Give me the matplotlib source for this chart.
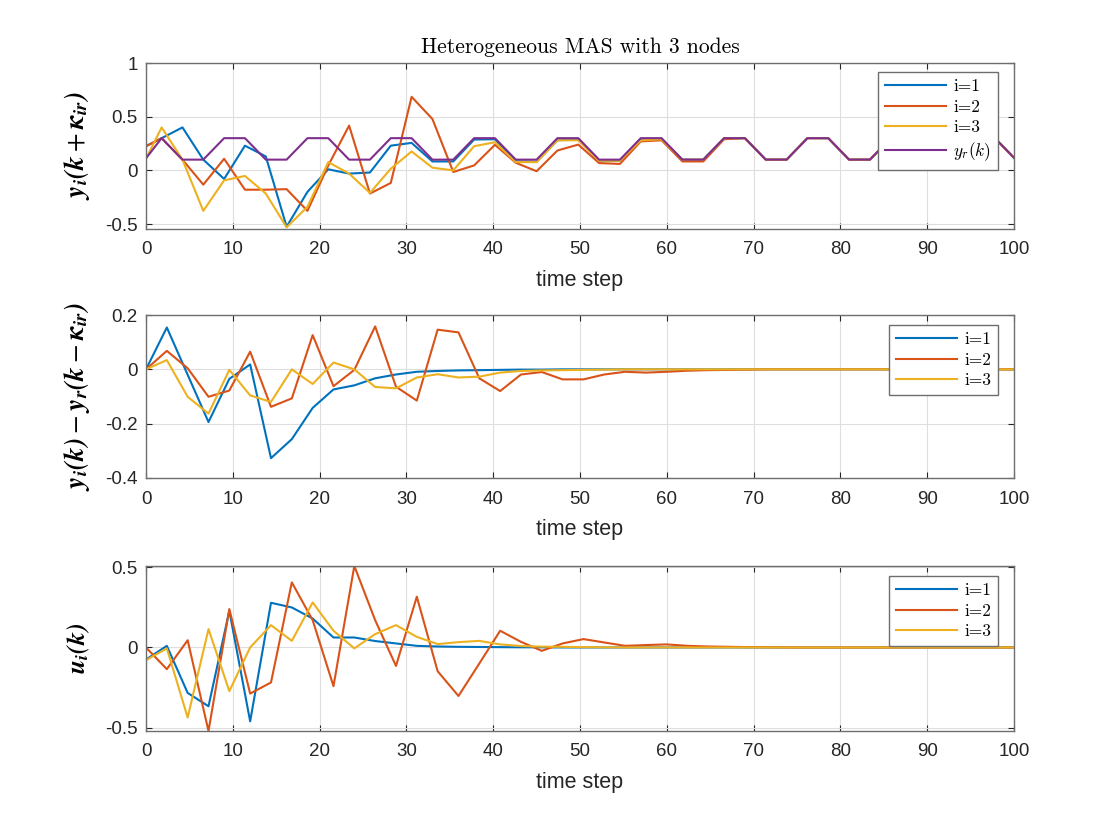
import matplotlib
matplotlib.use('Agg')
import matplotlib.pyplot as plt
import numpy as np

plt.rcParams['mathtext.fontset'] = 'cm'
plt.rcParams['axes.unicode_minus'] = False
plt.rcParams['font.family'] = ['Liberation Sans', 'DejaVu Sans']

# sample index (same for all panels)
n_idx = np.arange(43)
x_top = n_idx * 2.4 - 0.6
x_err = n_idx * 2.4

# panel 1: y_i(k + kappa_ir) and reference y_r(k)
yr = [0.05, 0.3, 0.1, 0.1, 0.3, 0.3, 0.1, 0.1, 0.3, 0.3, 0.1, 0.1, 0.3, 0.3, 0.1,
      0.1, 0.3, 0.3, 0.1, 0.1, 0.3, 0.3, 0.1, 0.1, 0.3, 0.3, 0.1, 0.1, 0.3, 0.3,
      0.1, 0.1, 0.3, 0.3, 0.1, 0.1, 0.3, 0.3, 0.1, 0.1, 0.3, 0.3, 0.1]
y1 = [0.2, 0.30, 0.40, 0.10, -0.08, 0.23, 0.13, -0.525, -0.20, 0.01, -0.03, -0.02,
      0.23, 0.256, 0.083, 0.083, 0.287, 0.29, 0.083, 0.08, 0.28, 0.29, 0.09, 0.09,
      0.29, 0.29, 0.1, 0.1, 0.3, 0.3, 0.1, 0.1, 0.3, 0.3, 0.1, 0.1, 0.3, 0.3, 0.1,
      0.1, 0.3, 0.3, 0.1]
y2 = [0.2, 0.30, 0.10, -0.133, 0.108, -0.18, -0.18, -0.175, -0.377, 0.046, 0.417,
      -0.216, -0.117, 0.685, 0.478, -0.015, 0.046, 0.238, 0.071, -0.008, 0.185, 0.24,
      0.068, 0.06, 0.27, 0.28, 0.083, 0.083, 0.29, 0.3, 0.1, 0.1, 0.3, 0.3, 0.1, 0.1,
      0.3, 0.3, 0.1, 0.1, 0.3, 0.3, 0.1]
y3 = [0.01, 0.40, 0.10, -0.377, -0.093, -0.052, -0.216, -0.53, -0.34, 0.077, -0.03,
      -0.21, 0.015, 0.176, 0.025, 0.0, 0.225, 0.262, 0.077, 0.077, 0.28, 0.28, 0.09,
      0.09, 0.28, 0.29, 0.1, 0.1, 0.3, 0.3, 0.1, 0.1, 0.3, 0.3, 0.1, 0.1, 0.3, 0.3,
      0.1, 0.1, 0.3, 0.3, 0.1]

# panel 2: tracking error
e1 = [0, 0.154, -0.02, -0.194, -0.035, 0.018, -0.327, -0.257, -0.142, -0.074, -0.059,
      -0.033, -0.019, -0.009, -0.006, -0.004, -0.003, -0.002, -0.001, -0.001, 0, 0, 0,
      0, 0, 0, 0, 0, 0, 0, 0, 0, 0, 0, 0, 0, 0, 0, 0, 0, 0, 0, 0]
e2 = [0, 0.068, 0.004, -0.101, -0.078, 0.065, -0.138, -0.107, 0.126, -0.062, -0.002,
      0.158, -0.064, -0.115, 0.146, 0.136, -0.033, -0.080, -0.019, -0.010, -0.037,
      -0.037, -0.019, -0.009, -0.012, -0.009, -0.005, -0.003, -0.002, -0.001, 0, 0, 0,
      0, 0, 0, 0, 0, 0, 0, 0, 0, 0]
e3 = [0, 0.034, -0.101, -0.163, -0.002, -0.096, -0.12, 0.0, -0.054, 0.025, 0.0,
      -0.065, -0.07, -0.03, -0.018, -0.03, -0.027, -0.012, -0.006, -0.004, -0.003,
      -0.002, -0.001, 0, 0, 0, 0, 0, 0, 0, 0, 0, 0, 0, 0, 0, 0, 0, 0, 0, 0, 0, 0]

# panel 3: control input
u1 = [-0.075, 0.01, -0.283, -0.366, 0.228, -0.46, 0.278, 0.249, 0.18, 0.062, 0.062,
      0.04, 0.025, 0.01, 0.006, 0.004, 0.003, 0.002, 0.001, 0.001, 0, 0, 0, 0, 0, 0,
      0, 0, 0, 0, 0, 0, 0, 0, 0, 0, 0, 0, 0, 0, 0, 0, 0]
u2 = [0.0, -0.135, 0.045, -0.52, 0.239, -0.287, -0.218, 0.405, 0.17, -0.241, 0.507,
      0.17, -0.115, 0.316, -0.148, -0.302, -0.1, 0.104, 0.035, -0.021, 0.025, 0.052,
      0.031, 0.01, 0.015, 0.019, 0.01, 0.006, 0.004, 0.002, 0.001, 0, 0, 0, 0, 0, 0,
      0, 0, 0, 0, 0, 0]
u3 = [-0.079, -0.006, -0.436, 0.114, -0.272, 0.0, 0.139, 0.041, 0.28, 0.104, -0.006,
      0.083, 0.139, 0.066, 0.021, 0.033, 0.041, 0.019, 0.009, 0.005, 0.004, 0.002,
      0.001, 0, 0, 0, 0, 0, 0, 0, 0, 0, 0, 0, 0, 0, 0, 0, 0, 0, 0, 0, 0]

colors = ['#0072BD', '#D95319', '#EDB120', '#7E2F8E']
labels = ['i=1', 'i=2', 'i=3']


def style_axes(ax, yticks, ylim, ylabel, ysize):
    ax.set_xlim(0, 100)
    ax.set_ylim(*ylim)
    ax.set_xticks(range(0, 101, 10))
    ax.set_yticks(yticks)
    ax.set_yticklabels(['%g' % t for t in yticks])
    ax.grid(True, color='#dedede', linewidth=0.8)
    ax.set_axisbelow(True)
    ax.tick_params(direction='in', top=True, right=True, length=4, width=0.8,
                   color='#262626', labelcolor='#262626', labelsize=13.5)
    ax.tick_params(axis='x', pad=9)
    ax.tick_params(axis='y', pad=6)
    for s in ax.spines.values():
        s.set_color('#6e6e6e')
        s.set_linewidth(1.0)
    ax.set_xlabel('time step', fontsize=15.5, color='#262626', labelpad=8)
    ax.set_ylabel(ylabel, fontsize=ysize, math_fontfamily='stix')
    ax.yaxis.set_label_coords(-0.062, 0.5)


def add_legend(ax, handles, names, top_px, height_px):
    leg = ax.legend(handles, names, loc='upper right',
                    bbox_to_anchor=(1 - 16 / 868, 1 - top_px / height_px),
                    borderaxespad=0, fancybox=False, framealpha=1,
                    edgecolor='#6e6e6e', handlelength=3.5, handletextpad=0.4,
                    labelspacing=0.3, borderpad=0.4,
                    prop={'family': 'cmr10', 'size': 12.5})
    leg.get_frame().set_linewidth(1.0)


fig = plt.figure(figsize=(11.2, 8.4), dpi=100)
W, H = 1120, 840
L, R = 146, 1014

# top panel
ax1 = fig.add_axes([L / W, 1 - 229 / H, (R - L) / W, 166 / H])
h = []
for yy, c in zip([y1, y2, y3, yr], colors):
    h.append(ax1.plot(x_top, yy, color=c, linewidth=1.5)[0])
style_axes(ax1, [-0.5, 0, 0.5, 1], (-0.546, 1),
           r'$\mathbfit{y_i(k}\:+\:\mathbfit{\kappa_{ir})}$', 19.5)
ax1.set_title('Heterogeneous MAS with 3 nodes', fontfamily='cmr10', fontsize=15.5,
              pad=7)
add_legend(ax1, h, labels + [r'$y_r(k)$'], 9, 166)

# middle panel
ax2 = fig.add_axes([L / W, 1 - 478 / H, (R - L) / W, 163 / H])
h = []
for yy, c in zip([e1, e2, e3], colors):
    h.append(ax2.plot(x_err, yy, color=c, linewidth=1.5)[0])
style_axes(ax2, [-0.4, -0.2, 0, 0.2], (-0.4, 0.2),
           r'$\mathbfit{y_i(k)}\:-\:\mathbfit{y_r(k}\:-\:\mathbfit{\kappa_{ir})}$', 19.5)
add_legend(ax2, h, labels, 10, 163)

# bottom panel
ax3 = fig.add_axes([L / W, 1 - 731 / H, (R - L) / W, 165 / H])
h = []
for yy, c in zip([u1, u2, u3], colors):
    h.append(ax3.plot(x_err, yy, color=c, linewidth=1.5)[0])
style_axes(ax3, [-0.5, 0, 0.5], (-0.52, 0.507), r'$\mathbfit{u_i(k)}$', 18.5)
add_legend(ax3, h, labels, 10, 165)

fig.savefig('out.png', dpi=100)
